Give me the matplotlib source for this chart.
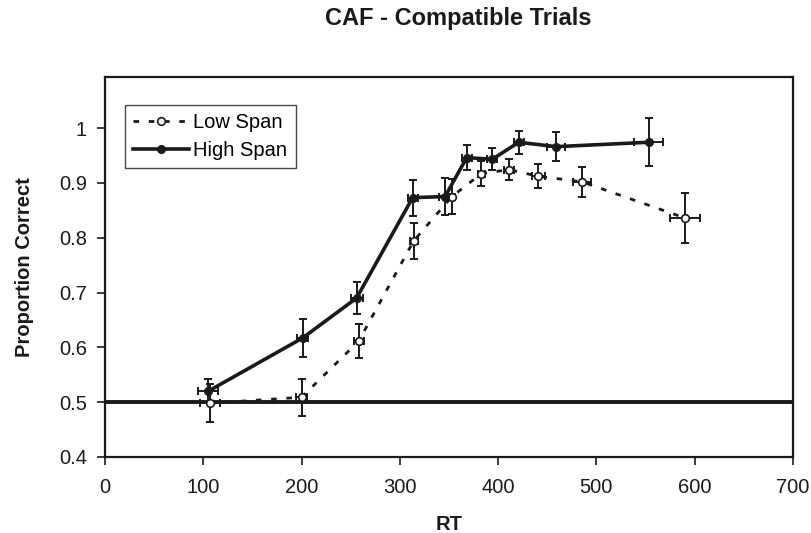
import matplotlib
matplotlib.use('Agg')
import matplotlib.pyplot as plt

plt.rcParams['font.family'] = ['Liberation Sans', 'DejaVu Sans']

# Low span
low_rt = [107, 200, 258, 314, 353, 383, 411, 441, 485, 590]
low_pc = [0.498, 0.509, 0.611, 0.794, 0.875, 0.917, 0.924, 0.912, 0.902, 0.836]
low_yerr = [0.035, 0.034, 0.031, 0.032, 0.032, 0.022, 0.019, 0.022, 0.027, 0.045]
low_xerr = [10, 6, 5, 4, 3, 4, 5, 7, 9, 15]

# High span
high_rt = [105, 201, 256, 313, 346, 368, 394, 421, 459, 553]
high_pc = [0.520, 0.617, 0.690, 0.873, 0.875, 0.946, 0.943, 0.974, 0.966, 0.974]
high_yerr = [0.022, 0.035, 0.030, 0.033, 0.033, 0.023, 0.020, 0.021, 0.027, 0.044]
high_xerr = [10, 6, 6, 5, 6, 5, 5, 5, 9, 15]

ink = '#1a1a1a'

fig = plt.figure(figsize=(8.11, 5.33), dpi=100)
ax = fig.add_axes([0.1295, 0.1426, 0.8483, 0.7129])

ax.axhline(0.5, color=ink, lw=2.8, zorder=1)

ax.errorbar(low_rt, low_pc, yerr=low_yerr, xerr=low_xerr, fmt='none',
            ecolor=ink, elinewidth=1.4, capsize=3.2, capthick=1.4, zorder=2)
ax.errorbar(high_rt, high_pc, yerr=high_yerr, xerr=high_xerr, fmt='none',
            ecolor=ink, elinewidth=1.4, capsize=3.2, capthick=1.4, zorder=2)

ax.plot(low_rt, low_pc, color=ink, lw=2.0, dashes=(2, 3.5),
        marker='o', ms=5.5, mfc='white', mec=ink, mew=1.2,
        label='Low Span', zorder=3)
ax.plot(high_rt, high_pc, color=ink, lw=2.6, marker='o', ms=5.5,
        mfc=ink, mec=ink, label='High Span', zorder=4)

ax.set_xlim(0, 700)
ax.set_ylim(0.4, 1.093)
ax.set_xticks(range(0, 701, 100))
ax.set_yticks([0.4, 0.5, 0.6, 0.7, 0.8, 0.9, 1.0])
ax.set_yticklabels(['0.4', '0.5', '0.6', '0.7', '0.8', '0.9', '1'])
ax.tick_params(labelsize=14.5, length=6, width=1.2, color=ink, labelcolor=ink)
ax.tick_params(axis='x', pad=9)
ax.tick_params(axis='y', pad=7)
for s in ax.spines.values():
    s.set_linewidth(1.6)
    s.set_color(ink)

ax.set_xlabel('RT', fontsize=14.5, fontweight='bold', labelpad=13, color=ink)
ax.set_ylabel('Proportion Correct', fontsize=14.5, fontweight='bold',
              labelpad=18, color=ink)
fig.text(0.565, 0.966, 'CAF - Compatible Trials', ha='center', va='center',
         fontsize=17, fontweight='bold', color=ink)

leg = ax.legend(loc='upper left', bbox_to_anchor=(0.029, 0.926), fontsize=14.5,
                frameon=True, fancybox=False, handlelength=2.8, handletextpad=0.2,
                borderpad=0.4, labelspacing=0.45, borderaxespad=0)
leg.get_frame().set_edgecolor(ink)
leg.get_frame().set_linewidth(1.0)

fig.savefig('out.png', dpi=100)
